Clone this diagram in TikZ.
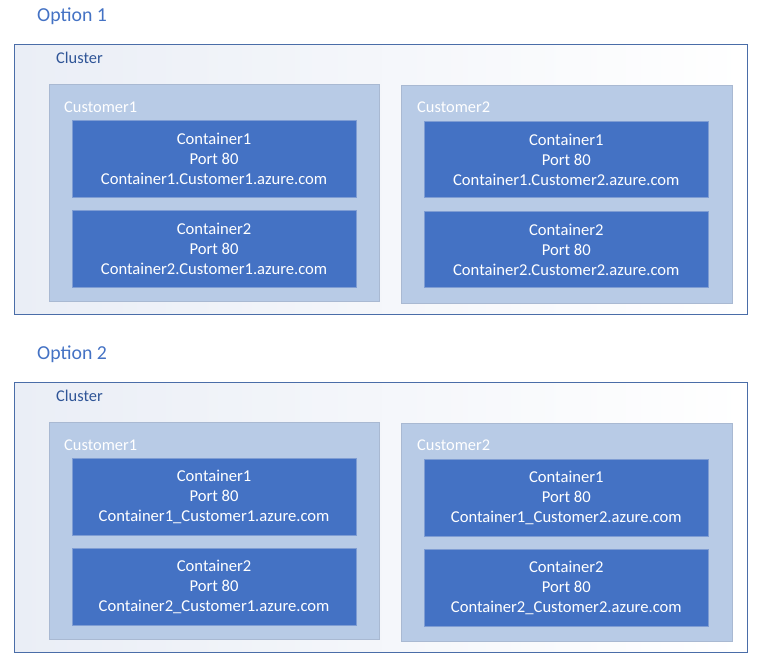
\documentclass[tikz,border=0pt]{standalone}
\usepackage{fontspec}
\setmainfont{Carlito}
\definecolor{optblue}{HTML}{4472C4}
\definecolor{clusterline}{HTML}{4A6DA8}
\definecolor{clustertext}{HTML}{2F5597}
\definecolor{custfill}{HTML}{B8CBE6}
\definecolor{custline}{HTML}{A9B9D2}
\definecolor{contfill}{HTML}{4472C4}
\definecolor{contline}{HTML}{7F9DD3}
\definecolor{clusterleft}{HTML}{EAEEF6}
\tikzset{
  optlabel/.style={anchor=west,inner sep=0pt,text=optblue,font=\fontsize{19.8}{24}\selectfont},
  clusterbox/.style={anchor=north west,draw=clusterline,line width=0.9pt,left color=clusterleft,right color=white,inner sep=0pt},
  clusterlabel/.style={anchor=west,inner sep=0pt,text=clustertext,font=\fontsize{16.4}{20}\selectfont},
  custbox/.style={anchor=north west,draw=custline,line width=0.6pt,fill=custfill,inner sep=0pt},
  custlabel/.style={anchor=west,inner sep=0pt,text=white,font=\fontsize{16.4}{20}\selectfont},
  contbox/.style={anchor=north west,draw=contline,line width=0.6pt,fill=contfill,inner sep=0pt,minimum width=284pt,minimum height=76.5pt},
  conttext/.style={align=center,text=white,inner sep=0pt,font=\fontsize{16.6}{20}\selectfont}
}
\begin{document}
\begin{tikzpicture}[x=1pt,y=-1pt]
\useasboundingbox (0,0) rectangle (761,660);
\foreach \i/\dy/\s in {1/0/.,2/338/\textunderscore}{
  \node[optlabel] (opt\i) at (37,16+\dy) {Option \i};
  \node[clusterbox,minimum width=733.5pt,minimum height=270.5pt] (cluster\i) at (13.8,43.8+\dy) {};
  \node[clusterlabel] (clusterlbl\i) at (56,58+\dy) {Cluster};
  % Customer1
  \node[custbox,minimum width=330.5pt,minimum height=217pt] (cust\i a) at (48.6,84.2+\dy) {};
  \node[custlabel] (custlbl\i a) at (64,107+\dy) {Customer1};
  \node[contbox] (cont\i aa) at (71.8,120.2+\dy) {};
  \node[conttext] (txt\i aa) at (cont\i aa.center) {Container1\\Port 80\\Container1\s Customer1.azure.com};
  \node[contbox] (cont\i ab) at (71.8,210.2+\dy) {};
  \node[conttext] (txt\i ab) at (cont\i ab.center) {Container2\\Port 80\\Container2\s Customer1.azure.com};
  % Customer2
  \node[custbox,minimum width=331.5pt,minimum height=218pt] (cust\i b) at (400.8,85+\dy) {};
  \node[custlabel] (custlbl\i b) at (417,107+\dy) {Customer2};
  \node[contbox] (cont\i ba) at (424,121+\dy) {};
  \node[conttext] (txt\i ba) at (cont\i ba.center) {Container1\\Port 80\\Container1\s Customer2.azure.com};
  \node[contbox] (cont\i bb) at (424,211+\dy) {};
  \node[conttext] (txt\i bb) at (cont\i bb.center) {Container2\\Port 80\\Container2\s Customer2.azure.com};
}
\end{tikzpicture}
\end{document}
